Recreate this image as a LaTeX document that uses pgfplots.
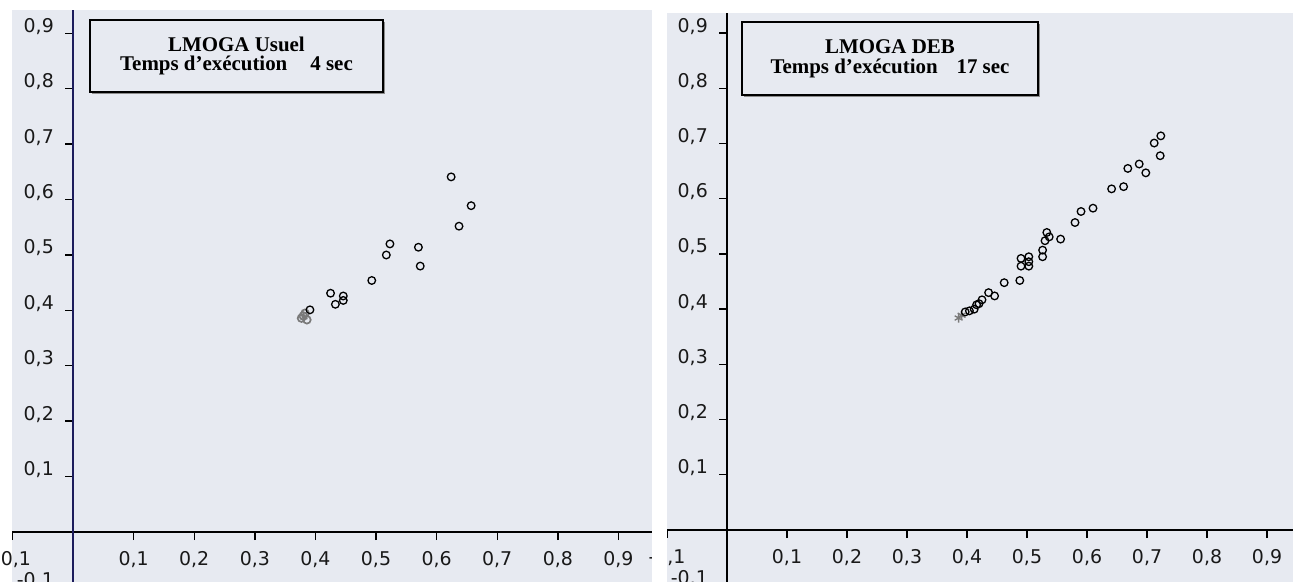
\documentclass[border=0pt]{standalone}
\usepackage{fontspec}
\setmainfont{Liberation Serif}
\newfontfamily\tickfont{DejaVu Sans}
\usepackage{pgfplots}
\pgfplotsset{compat=1.18}
\definecolor{bgpanel}{HTML}{E7EAF1}
\definecolor{navy}{HTML}{1C1C5C}
\definecolor{grp}{HTML}{7A7A7A}

\pgfplotsset{
  panel/.style={
    axis lines=middle,
    axis line style={-, line width=1.7bp, black},
    axis background/.style={fill=bgpanel},
    xmin=-0.1, ymin=-0.1,
    xtick={-0.1,0.1,0.2,0.3,0.4,0.5,0.6,0.7,0.8,0.9},
    ytick={-0.1,0.1,0.2,0.3,0.4,0.5,0.6,0.7,0.8,0.9},
    tick align=outside,
    major tick length=8bp,
    tick style={black, line width=1.4bp},
    /pgf/number format/use comma,
    /pgf/number format/fixed,
    /pgf/number format/precision=1,
    /pgf/number format/assume math mode=true,
    ticklabel style={font=\tickfont\fontsize{19}{19}\selectfont, text=black!90},
    xticklabel style={anchor=north, inner sep=0pt, yshift=-11bp},
    yticklabel style={anchor=east, inner sep=0pt, xshift=-11bp, yshift=7bp},
  },
  blk/.style={only marks, mark=o, mark size=3.8bp, mark options={draw=black, line width=1.3bp}},
  gry/.style={only marks, mark=o, mark size=3.8bp, mark options={draw=grp, line width=1.7bp}},
}

\begin{document}
\begin{tikzpicture}
\path[use as bounding box] (0,0) rectangle (1293bp,582bp);

% ---------------- left panel ----------------
\begin{axis}[panel, at={(73bp,50bp)}, anchor=origin,
  x=606bp, y=554bp, xmax=0.955, ymax=0.942,
  y axis line style={navy}]
\addplot[gry] coordinates {(0.383,0.395) (0.377,0.386) (0.386,0.383) (0.380,0.390)};
\addplot[only marks, mark=asterisk, mark size=4bp, mark options={draw=grp, line width=1.3bp}] coordinates {(0.381,0.388)};
\addplot[blk] coordinates {
(0.624,0.641) (0.657,0.589) (0.637,0.552) (0.523,0.520) (0.517,0.500)
(0.570,0.514) (0.573,0.480) (0.493,0.454) (0.425,0.431) (0.446,0.426)
(0.446,0.418) (0.433,0.411) (0.391,0.401)
};
\end{axis}

% ---------------- right panel ----------------
\begin{axis}[panel, at={(727bp,52bp)}, anchor=origin,
  x=600bp, y=552bp, xmax=0.943, ymax=0.937]
\addplot[only marks, mark=asterisk, mark size=4.5bp, mark options={draw=grp, line width=1.3bp}] coordinates {(0.391,0.389) (0.386,0.384)};
\addplot[blk] coordinates {
(0.723,0.714) (0.712,0.701) (0.722,0.678) (0.687,0.663) (0.698,0.647)
(0.668,0.655) (0.661,0.622) (0.641,0.618) (0.610,0.583) (0.590,0.577)
(0.580,0.557) (0.533,0.539) (0.537,0.531) (0.530,0.524) (0.556,0.527)
(0.526,0.507) (0.526,0.495) (0.490,0.492) (0.503,0.495) (0.490,0.478)
(0.503,0.478) (0.503,0.486) (0.462,0.448) (0.488,0.452) (0.436,0.430)
(0.446,0.424) (0.425,0.417) (0.416,0.408) (0.420,0.410) (0.412,0.400)
(0.404,0.397) (0.397,0.395)
};
\end{axis}

% white gap between the two panels
\fill[white] (651.5bp,0bp) rectangle (666.5bp,582bp);

% ---------------- title boxes ----------------
\fill[black!45] (92bp,488bp) rectangle (385bp,560bp);
\node[draw=black, line width=1.8bp, fill=bgpanel, minimum width=293bp, minimum height=72bp,
  inner sep=0pt, align=center, font=\bfseries\fontsize{21}{20}\selectfont]
  at (236.5bp,526bp) {LMOGA Usuel\\Temps d’exécution\hspace{1.1em}4 sec};

\fill[black!45] (744bp,485bp) rectangle (1040bp,558bp);
\node[draw=black, line width=1.8bp, fill=bgpanel, minimum width=296bp, minimum height=73bp,
  inner sep=0pt, align=center, font=\bfseries\fontsize{21}{20}\selectfont]
  at (890bp,523.5bp) {LMOGA DEB\\Temps d’exécution\hspace{0.9em}17 sec};
\end{tikzpicture}
\end{document}
